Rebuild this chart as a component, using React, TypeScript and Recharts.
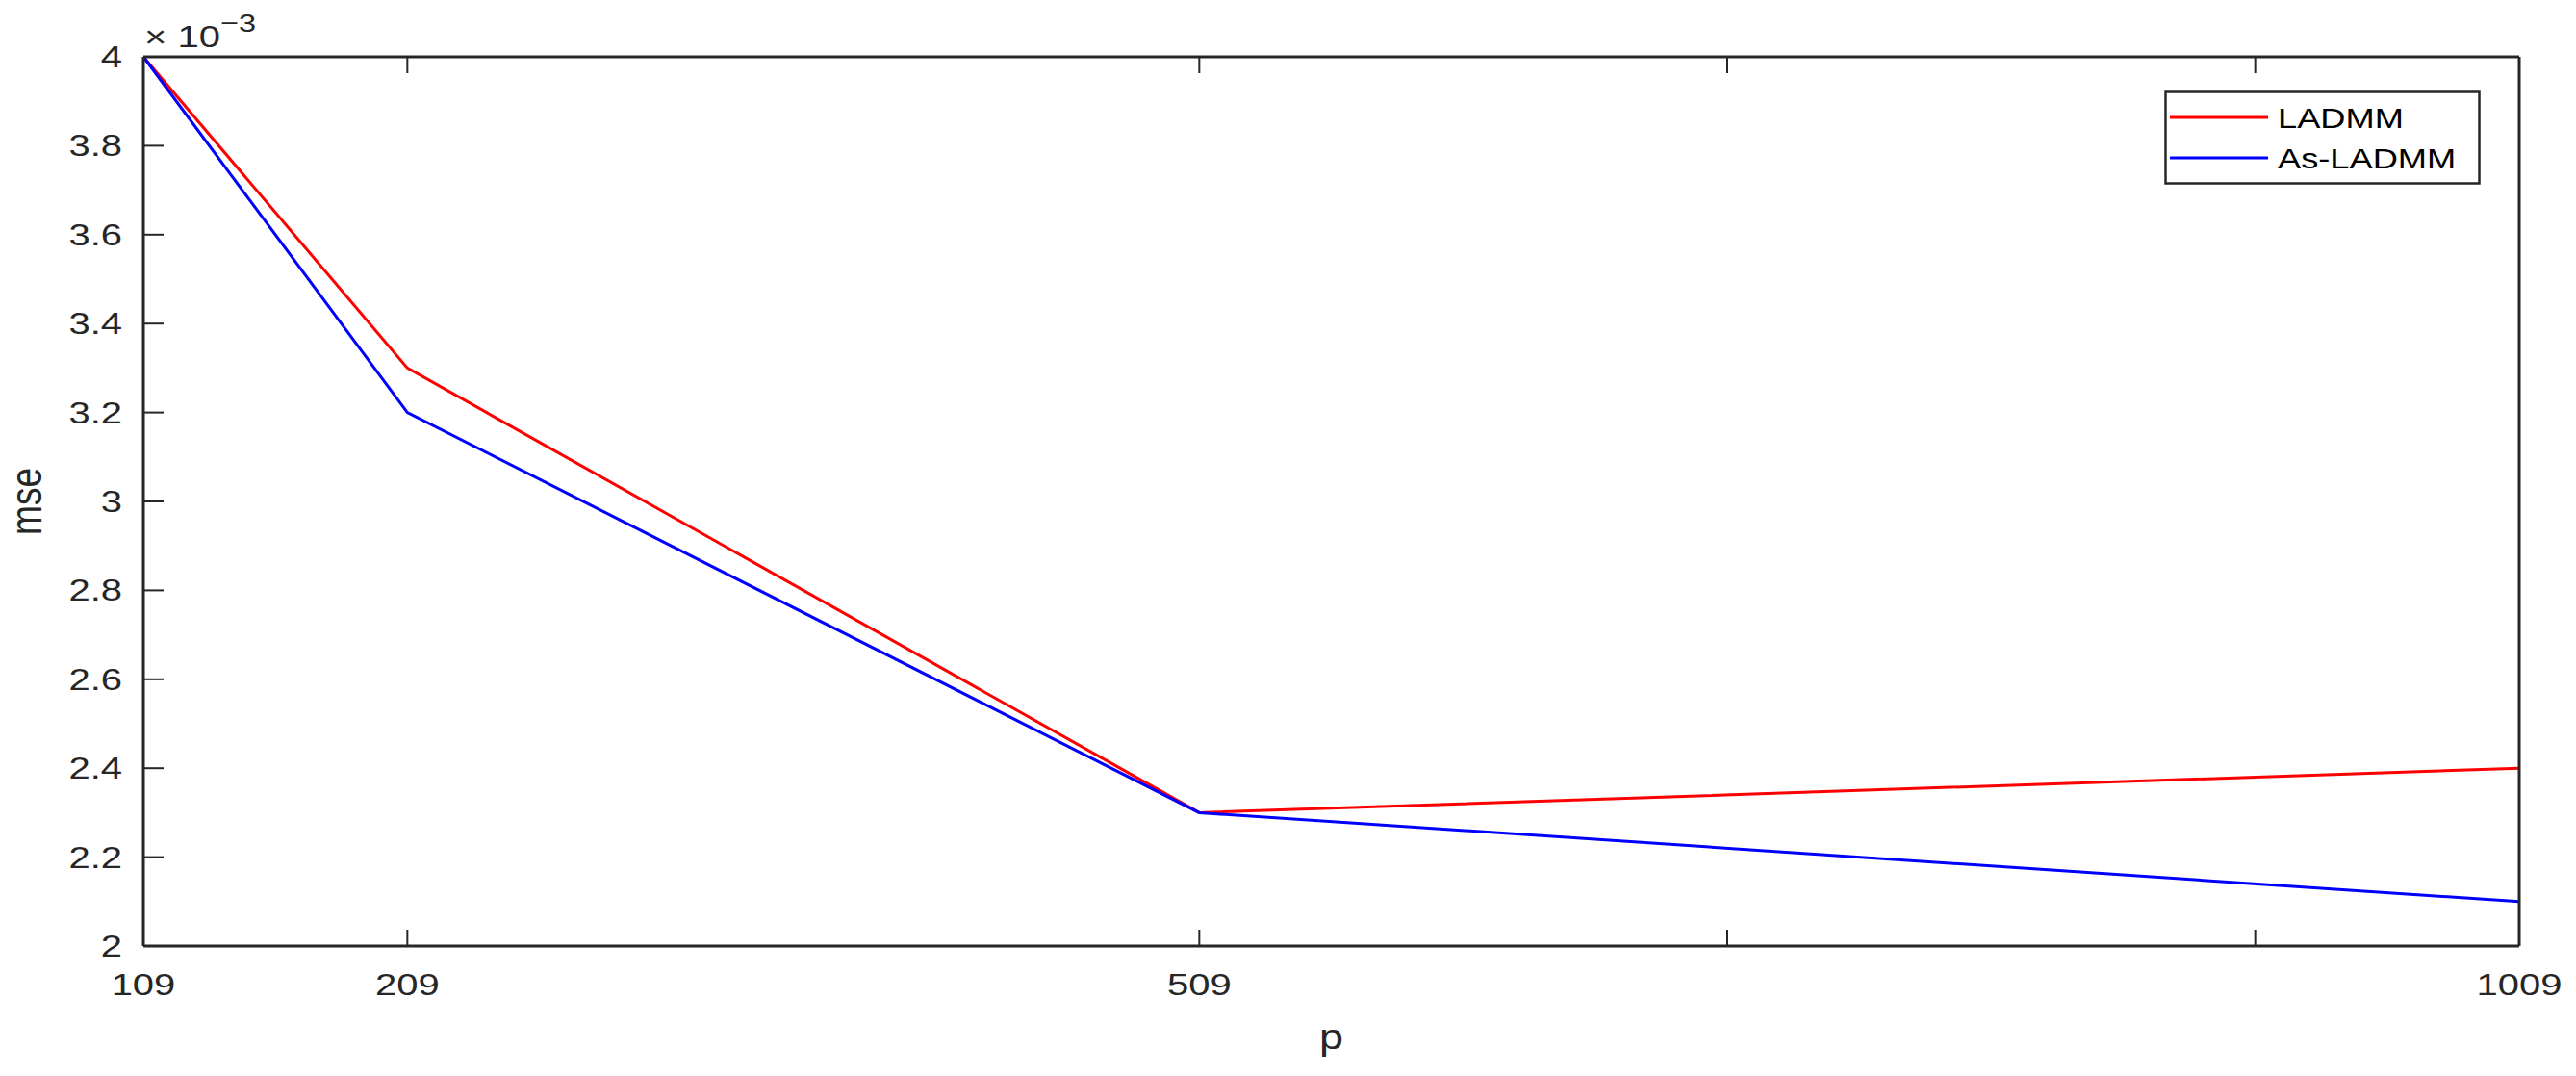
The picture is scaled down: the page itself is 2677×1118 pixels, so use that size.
import { LineChart, Line, XAxis, YAxis, Legend } from 'recharts';

// mse values are in units of 1e-3 (the axis shows "x 10^-3")
const pValues = [109, 209, 509, 1009];
const ladmmMse = [4.0, 3.3, 2.3, 2.4];
const asLadmmMse = [4.0, 3.2, 2.3, 2.1];

const xTicks = [109, 209, 509, 709, 909, 1009];
const xTickLabels = ['109', '209', '509', '', '', '1009'];
const yTicks = [2, 2.2, 2.4, 2.6, 2.8, 3, 3.2, 3.4, 3.6, 3.8, 4];

const seriesNames = ['LADMM', 'As-LADMM'];
const seriesColors = ['#ff0000', '#0000ff'];

const rows = pValues.map((p, i) => ({ p, ladmm: ladmmMse[i], asLadmm: asLadmmMse[i] }));

const FONT = "'Liberation Sans', Arial, Helvetica, sans-serif";
const INK = '#262626';
const STRETCH = 'scale(1.25,1)';
const X_TICK_LEN = 17;
const Y_TICK_LEN = 21;
const X_TICK_MARGIN = 40;
const Y_TICK_MARGIN = 22;

function fmtY(v: number) {
  return String(Number(v.toFixed(1)));
}

function BottomTick({ x, y, payload }: any) {
  const axisY = y - X_TICK_MARGIN;
  const idx = xTicks.indexOf(payload.value);
  const label = idx >= 0 ? xTickLabels[idx] : '';
  return (
    <g>
      <line x1={x} x2={x} y1={axisY} y2={axisY - X_TICK_LEN} stroke={INK} strokeWidth={2} />
      {label && (
        <text
          transform={`translate(${x},${y}) ${STRETCH}`}
          textAnchor="middle"
          dominantBaseline="central"
          fontSize={32}
          fontFamily={FONT}
          fill={INK}
        >
          {label}
        </text>
      )}
    </g>
  );
}

function TopTick({ x, y }: any) {
  return <line x1={x} x2={x} y1={y} y2={y + X_TICK_LEN} stroke={INK} strokeWidth={2} />;
}

function LeftTick({ x, y, payload }: any) {
  const axisX = x + Y_TICK_MARGIN;
  return (
    <g>
      <line x1={axisX} x2={axisX + Y_TICK_LEN} y1={y} y2={y} stroke={INK} strokeWidth={2} />
      <text
        transform={`translate(${x},${y}) ${STRETCH}`}
        textAnchor="end"
        dominantBaseline="central"
        fontSize={32}
        fontFamily={FONT}
        fill={INK}
      >
        {fmtY(payload.value)}
      </text>
    </g>
  );
}

function RightTick({ x, y }: any) {
  return <line x1={x - Y_TICK_LEN} x2={x} y1={y} y2={y} stroke={INK} strokeWidth={2} />;
}

function LegendBox({ payload }: any) {
  // keep the plotting order, not the alphabetical one
  const items = seriesNames.map((n, i) => {
    const hit = (payload || []).find((e: any) => e.value === n);
    return { value: n, color: hit ? hit.color : seriesColors[i] };
  });
  return (
    <svg width={329} height={98} style={{ display: 'block' }}>
      <rect x={1.5} y={1.5} width={326} height={95} fill="#fff" stroke={INK} strokeWidth={2.5} />
      {items.map((it, i) => {
        const cy = 28 + i * 42;
        return (
          <g key={it.value}>
            <line x1={6} x2={108} y1={cy} y2={cy} stroke={it.color} strokeWidth={3} />
            <text
              transform={`translate(118,${cy + 11}) ${STRETCH}`}
              fontSize={29}
              fontFamily={FONT}
              fill="#000"
            >
              {it.value}
            </text>
          </g>
        );
      })}
    </svg>
  );
}

export default function App() {
  return (
    <div style={{ width: 2660, height: 1100, background: '#fff' }}>
      <LineChart width={2660} height={1100} data={rows} margin={{ top: 50, right: 49, bottom: 0, left: 0 }}>
        <XAxis
          dataKey="p"
          type="number"
          domain={[109, 1009]}
          ticks={xTicks}
          interval={0}
          height={125}
          tickSize={0}
          tickMargin={X_TICK_MARGIN}
          tickLine={false}
          axisLine={{ stroke: INK, strokeWidth: 3 }}
          tick={<BottomTick />}
          label={(props: any) => {
            const vb = props.viewBox || { x: 141, y: 975, width: 2469 };
            return (
              <text
                transform={`translate(${vb.x + vb.width / 2},${vb.y + 107}) ${STRETCH}`}
                textAnchor="middle"
                fontSize={36}
                fontFamily={FONT}
                fill={INK}
              >
                p
              </text>
            );
          }}
        />
        <XAxis
          xAxisId="top"
          orientation="top"
          dataKey="p"
          type="number"
          domain={[109, 1009]}
          ticks={xTicks}
          interval={0}
          height={1}
          tickSize={0}
          tickMargin={0}
          tickLine={false}
          axisLine={{ stroke: INK, strokeWidth: 3 }}
          tick={<TopTick />}
          label={(props: any) => {
            const vb = props.viewBox || { x: 141, y: 50 };
            return (
              <text
                transform={`translate(${vb.x + 1},${vb.y - 9}) ${STRETCH}`}
                fontSize={32}
                fontFamily={FONT}
                fill={INK}
              >
                × 10
                <tspan fontSize={26} dy={-16}>
                  −3
                </tspan>
              </text>
            );
          }}
        />
        <YAxis
          type="number"
          domain={[2, 4]}
          ticks={yTicks}
          interval={0}
          width={141}
          tickSize={0}
          tickMargin={Y_TICK_MARGIN}
          tickLine={false}
          axisLine={{ stroke: INK, strokeWidth: 3 }}
          tick={<LeftTick />}
          label={(props: any) => {
            const vb = props.viewBox || { x: 0, y: 51, height: 924 };
            return (
              <text
                transform={`translate(${vb.x + 22},${vb.y + vb.height / 2}) ${STRETCH} rotate(-90)`}
                textAnchor="middle"
                fontSize={37}
                fontFamily={FONT}
                fill={INK}
                dy={10}
              >
                mse
              </text>
            );
          }}
        />
        <YAxis
          yAxisId="right"
          orientation="right"
          type="number"
          domain={[2, 4]}
          ticks={yTicks}
          interval={0}
          width={1}
          tickSize={0}
          tickMargin={0}
          tickLine={false}
          axisLine={{ stroke: INK, strokeWidth: 3 }}
          tick={<RightTick />}
        />
        <Legend
          layout="horizontal"
          verticalAlign="middle"
          align="center"
          wrapperStyle={{ left: 2241, top: 86, width: 329, height: 98 }}
          content={<LegendBox />}
        />
        <Line
          type="linear"
          dataKey="ladmm"
          name={seriesNames[0]}
          stroke={seriesColors[0]}
          strokeWidth={3}
          dot={false}
          isAnimationActive={false}
        />
        <Line
          type="linear"
          dataKey="asLadmm"
          name={seriesNames[1]}
          stroke={seriesColors[1]}
          strokeWidth={3}
          dot={false}
          isAnimationActive={false}
        />
      </LineChart>
    </div>
  );
}
